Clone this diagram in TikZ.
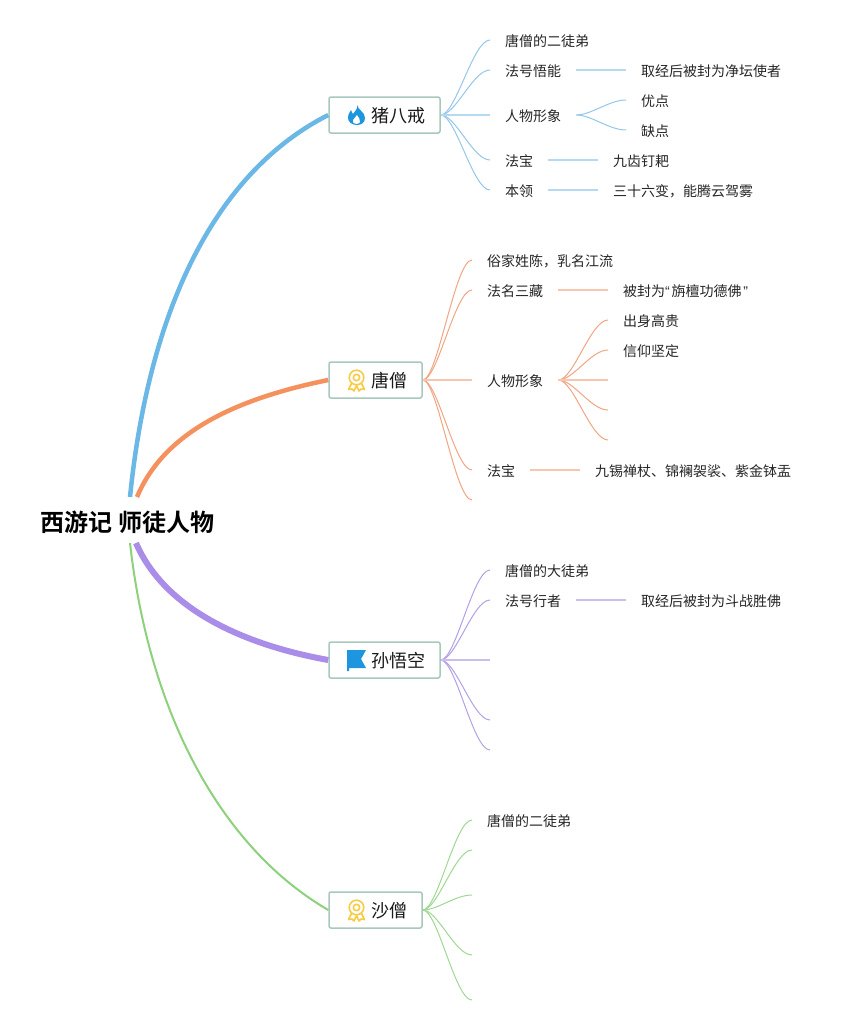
\documentclass[tikz,border=0pt]{standalone}
\usepackage{fontspec}
\usetikzlibrary{calc}
\setmainfont{Noto Sans CJK SC}[BoldFont={Noto Sans CJK SC Bold}]
\newfontfamily\quotefont{Liberation Sans}
\tikzset{
  x=1pt,y=-1pt,
  rootnode/.style={font=\bfseries\fontsize{24}{28}\selectfont,inner sep=0pt},
  topicbox/.style={draw=topicline,line width=1.5pt,rounded corners=2pt,fill=white,font=\fontsize{18}{22}\selectfont,minimum height=36pt,inner sep=0pt,text=black!90,text height=16pt,text depth=0.3pt},
  leaf/.style={font=\fontsize{14}{17}\selectfont,inner xsep=15pt,inner ysep=0pt,anchor=west,text=black!85,text height=13pt,text depth=0.4pt},
  curve/.style={line width=1pt},
  flat/.style={line width=2pt},
  medalline/.style={draw=iconyellow,line width=1.6pt,line join=round},
}
\definecolor{topicline}{HTML}{A8C8BE}
\definecolor{bluemain}{HTML}{6BB7E6}
\definecolor{bluec}{HTML}{93C8EA}
\definecolor{bluef}{HTML}{B4D9F0}
\definecolor{orangemain}{HTML}{F5915F}
\definecolor{orangec}{HTML}{F2A582}
\definecolor{orangef}{HTML}{F6C7AE}
\definecolor{purplemain}{HTML}{A98DE8}
\definecolor{purplec}{HTML}{B4A0E6}
\definecolor{purplef}{HTML}{CABEEC}
\definecolor{greenmain}{HTML}{8DD17D}
\definecolor{greenc}{HTML}{9FD892}
\definecolor{iconblue}{HTML}{1E95DF}
\definecolor{iconyellow}{HTML}{F8CB45}
\newcommand{\branch}[3]{\draw[curve,#1] (#2) .. controls ($(#2)+(15,0)$) and ($(#3)+(-17,0)$) .. (#3);}
\newcommand{\medalicon}[2]{\begin{scope}[shift={(#1,#2)}]
\draw[medalline] (0,0) circle (7.3pt);
\draw[medalline] (0,0) circle (3.2pt);
\draw[medalline] (-5,6) -- (-8,12) -- (-4.5,11.5) -- (-2.5,13.5) -- (0,8) -- (2.5,13.5) -- (4.5,11.5) -- (8,12) -- (5,6);
\end{scope}}
\begin{document}
\begin{tikzpicture}
\useasboundingbox (0,0) rectangle (851,1025);
\fill[white] (0,0) rectangle (851,1025);
\node[rootnode] (root) at (127.5,522) {西游记 师徒人物};
\coordinate (r1) at (130,497);
\coordinate (r2) at (137,497);
\coordinate (r3) at (136,543);
\coordinate (r4) at (130,543);
% topics
\node[topicbox,minimum width=111pt] (zhu) at (384.5,115) {\hspace{28pt}猪八戒};
\node[topicbox,minimum width=93pt] (tang) at (375.5,380) {\hspace{28pt}唐僧};
\node[topicbox,minimum width=111pt] (sun) at (384.5,660) {\hspace{28pt}孙悟空};
\node[topicbox,minimum width=93pt] (sha) at (375.5,910) {\hspace{28pt}沙僧};
\draw[bluemain,line width=4.5pt] (r1) .. controls (150,300) and (220,170) .. (zhu.west);
\draw[orangemain,line width=4.5pt] (r2) .. controls (165,430) and (240,398) .. (tang.west);
\draw[purplemain,line width=6pt] (r3) .. controls (165,610) and (245,645) .. (sun.west);
\draw[greenmain,line width=2pt] (r4) .. controls (150,720) and (225,850) .. (sha.west);
% icons
\fill[iconblue] (357,105) .. controls (358,110) and (365,112) .. (365,118) .. controls (365,123) and (361,125) .. (357,125) .. controls (352,125) and (348,122) .. (348,118) .. controls (348,114) and (350,112) .. (351,110) .. controls (352,112) and (352,113) .. (353,114) .. controls (355,111) and (358,109) .. (357,105) -- cycle;
\fill[white] (357,115) .. controls (358,118) and (361,119) .. (360,122) .. controls (359,124.5) and (354,124.5) .. (353,122) .. controls (352,119) and (356,118) .. (357,115) -- cycle;
\medalicon{356.5}{377.5}
\medalicon{356.5}{907.5}
\fill[iconblue] (347,650) -- (366,650) -- (361,659) -- (366,668) -- (349,668) -- (349,671) -- (347,671) -- cycle;
% zhu children
\node[leaf] (z1) at (490,40) {唐僧的二徒弟};
\node[leaf] (z2) at (490,70) {法号悟能};
\node[leaf] (z3) at (490,115) {人物形象};
\node[leaf] (z4) at (490,160) {法宝};
\node[leaf] (z5) at (490,190) {本领};
\node[leaf] (z21) at (626,70) {取经后被封为净坛使者};
\node[leaf] (z31) at (626,100) {优点};
\node[leaf] (z32) at (626,130) {缺点};
\node[leaf] (z41) at (598,160) {九齿钉耙};
\node[leaf] (z51) at (598,190) {三十六变，能腾云驾雾};
\foreach \t in {z1,z2,z4,z5}{\branch{bluec}{zhu.east}{\t.west}}
\draw[flat,bluef] (zhu.east) -- (z3.west);
\draw[flat,bluef] (z2.east) -- (z21.west);
\branch{bluec}{z3.east}{z31.west}
\branch{bluec}{z3.east}{z32.west}
\draw[flat,bluef] (z4.east) -- (z41.west);
\draw[flat,bluef] (z5.east) -- (z51.west);
% tang children
\node[leaf] (t1) at (472,260) {俗家姓陈，乳名江流};
\node[leaf] (t2) at (472,290) {法名三藏};
\node[leaf] (t3) at (472,380) {人物形象};
\node[leaf] (t4) at (472,470) {法宝};
\coordinate (t5) at (472,500);
\node[leaf] (t21) at (608,290) {被封为{\quotefont “}\hspace{1.8pt}旃檀功德佛\hspace{1.8pt}{\quotefont ”}};
\node[leaf] (t31) at (608,320) {出身高贵};
\node[leaf] (t32) at (608,350) {信仰坚定};
\coordinate (t33) at (608,380);
\coordinate (t34) at (608,410);
\coordinate (t35) at (608,440);
\node[leaf] (t41) at (580,470) {九锡禅杖、锦襕袈裟、紫金钵盂};
\foreach \t in {t1.west,t2.west,t4.west,t5}{\branch{orangec}{tang.east}{\t}}
\draw[flat,orangef] (tang.east) -- (t3.west);
\draw[flat,orangef] (t2.east) -- (t21.west);
\foreach \t in {t31.west,t32.west,t34,t35}{\branch{orangec}{t3.east}{\t}}
\draw[flat,orangef] (t3.east) -- (t33);
\draw[flat,orangef] (t4.east) -- (t41.west);
% sun children
\node[leaf] (s1) at (490,570) {唐僧的大徒弟};
\node[leaf] (s2) at (490,600) {法号行者};
\coordinate (s3) at (490,660);
\coordinate (s4) at (490,720);
\coordinate (s5) at (490,750);
\node[leaf] (s21) at (626,600) {取经后被封为斗战胜佛};
\foreach \t in {s1.west,s2.west,s4,s5}{\branch{purplec}{sun.east}{\t}}
\draw[flat,purplef] (sun.east) -- (s3);
\draw[flat,purplef] (s2.east) -- (s21.west);
% sha children
\node[leaf] (h1) at (472,820) {唐僧的二徒弟};
\coordinate (h2) at (472,850);
\coordinate (h3) at (472,895);
\coordinate (h4) at (472,955);
\coordinate (h5) at (472,1000);
\foreach \t in {h1.west,h2,h3,h4,h5}{\branch{greenc}{sha.east}{\t}}
\end{tikzpicture}
\end{document}
